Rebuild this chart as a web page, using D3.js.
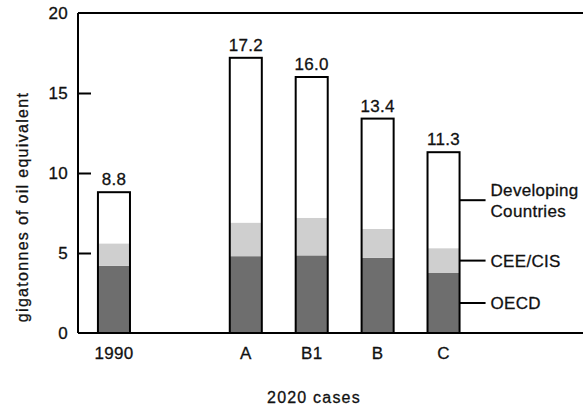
<!DOCTYPE html>
<html>
<head>
<meta charset="utf-8">
<script src="https://cdn.jsdelivr.net/npm/d3@7"></script>
<style>
  html, body { margin: 0; padding: 0; background: #fff; }
  svg { display: block; }
  text { font-family: "Liberation Sans", Arial, Helvetica, sans-serif; fill: #111; stroke: #111; stroke-width: 0.3px; }
</style>
</head>
<body>
<svg id="chart" width="583" height="408"></svg>
<script>
// ---- data ----
const categories = ["1990", "A", "B1", "B", "C"];
const slots = ["1990", "gap", "A", "B1", "B", "C"];
const oecd = [4.2, 4.8, 4.85, 4.7, 3.75];
const ceeCis = [1.4, 2.1, 2.35, 1.8, 1.55];
const developing = [3.2, 10.3, 8.8, 6.9, 6.0];
const totalLabels = ["8.8", "17.2", "16.0", "13.4", "11.3"];
const yTicks = [0, 5, 10, 15, 20];
const seriesNames = ["OECD", "CEE/CIS", "Developing Countries"];
const legendLines = [["OECD"], ["CEE/CIS"], ["Developing", "Countries"]];
const seriesColors = ["#6e6e6e", "#cfcfcf", "#ffffff"];
const xTitle = "2020 cases";
const yTitle = "gigatonnes of oil equivalent";

// ---- layout ----
const svg = d3.select("#chart");
const mLeft = 78, mRight = 583, mTop = 13, mBottom = 333;
const fs = 17;

const x = d3.scaleBand().domain(slots).range([81, 476.5])
  .paddingInner(0.514).paddingOuter(0.257);
const y = d3.scaleLinear().domain([0, 20]).range([mBottom, mTop]);

const rows = categories.map((c, i) => ({cat: c, OECD: oecd[i], "CEE/CIS": ceeCis[i], "Developing Countries": developing[i], label: totalLabels[i]}));
const stack = d3.stack().keys(seriesNames)(rows);

// bars (segments)
const g = svg.append("g");
stack.forEach((layer, si) => {
  g.selectAll(null).data(layer).enter().append("rect")
    .attr("x", d => x(d.data.cat))
    .attr("width", x.bandwidth())
    .attr("y", d => y(d[1]))
    .attr("height", d => y(d[0]) - y(d[1]))
    .attr("fill", seriesColors[si]);
});
// outlines
const topLayer = stack[stack.length - 1];
g.selectAll(null).data(topLayer).enter().append("rect")
  .attr("x", d => x(d.data.cat))
  .attr("width", x.bandwidth())
  .attr("y", d => y(d[1]))
  .attr("height", d => y(0) - y(d[1]))
  .attr("fill", "none").attr("stroke", "#000").attr("stroke-width", 2);

// value labels
g.selectAll(null).data(topLayer).enter().append("text")
  .attr("x", d => x(d.data.cat) + x.bandwidth() / 2)
  .attr("y", d => y(d[1]) - 7)
  .attr("text-anchor", "middle")
  .attr("font-size", fs).attr("letter-spacing", 0.3)
  .text(d => d.data.label);

// frame: top line
svg.append("line").attr("x1", mLeft).attr("x2", mRight).attr("y1", mTop).attr("y2", mTop)
  .attr("stroke", "#000").attr("stroke-width", 2);

// y axis
const yAxis = d3.axisLeft(y).tickValues(yTicks).tickSize(-13).tickPadding(10).tickFormat(d3.format("d"));
const yg = svg.append("g").attr("transform", `translate(${mLeft},0)`).call(yAxis);
yg.select(".domain").attr("stroke-width", 2).attr("d", `M0,${mTop}V${mBottom}`);
yg.selectAll(".tick line").attr("stroke-width", 2);
yg.selectAll(".tick").filter(d => d === 0 || d === 20).select("line").remove();
yg.selectAll(".tick text").attr("font-size", fs).attr("letter-spacing", 0.3)
  .attr("font-family", '"Liberation Sans", Arial, sans-serif').attr("fill", "#111");

// x axis
const xAxis = d3.axisBottom(x).tickValues(categories).tickSize(0).tickPadding(14);
const xg = svg.append("g").attr("transform", `translate(0,${mBottom})`).call(xAxis);
xg.select(".domain").attr("stroke-width", 2).attr("d", `M${mLeft},0H${mRight}`);
xg.selectAll(".tick text").attr("font-size", fs).attr("letter-spacing", 0.3)
  .attr("font-family", '"Liberation Sans", Arial, sans-serif').attr("fill", "#111");

// axis titles
svg.append("text").attr("x", 314).attr("y", 403).attr("text-anchor", "middle")
  .attr("font-size", 16).attr("letter-spacing", 1.2).text(xTitle);
svg.append("text").attr("transform", `translate(28,${(mTop + mBottom) / 2 + 34}) rotate(-90)`)
  .attr("text-anchor", "middle").attr("font-size", 16).attr("letter-spacing", 1.3).text(yTitle);

// legend leaders attached to last bar
const lastIdx = categories.length - 1;
const xr = x(categories[lastIdx]) + x.bandwidth();
stack.forEach((layer, si) => {
  const d = layer[lastIdx];
  const ym = y((d[0] + d[1]) / 2);
  svg.append("line").attr("x1", xr).attr("x2", xr + 26).attr("y1", ym).attr("y2", ym)
    .attr("stroke", "#000").attr("stroke-width", 2);
  const lines = legendLines[si];
  const t = svg.append("text").attr("x", xr + 31).attr("font-size", fs).attr("letter-spacing", 0.3);
  lines.forEach((ln, li) => {
    t.append("tspan").attr("x", xr + 31)
      .attr("y", ym + 6 + (li - (lines.length - 1) / 2) * 21)
      .text(ln);
  });
});
</script>
</body>
</html>
